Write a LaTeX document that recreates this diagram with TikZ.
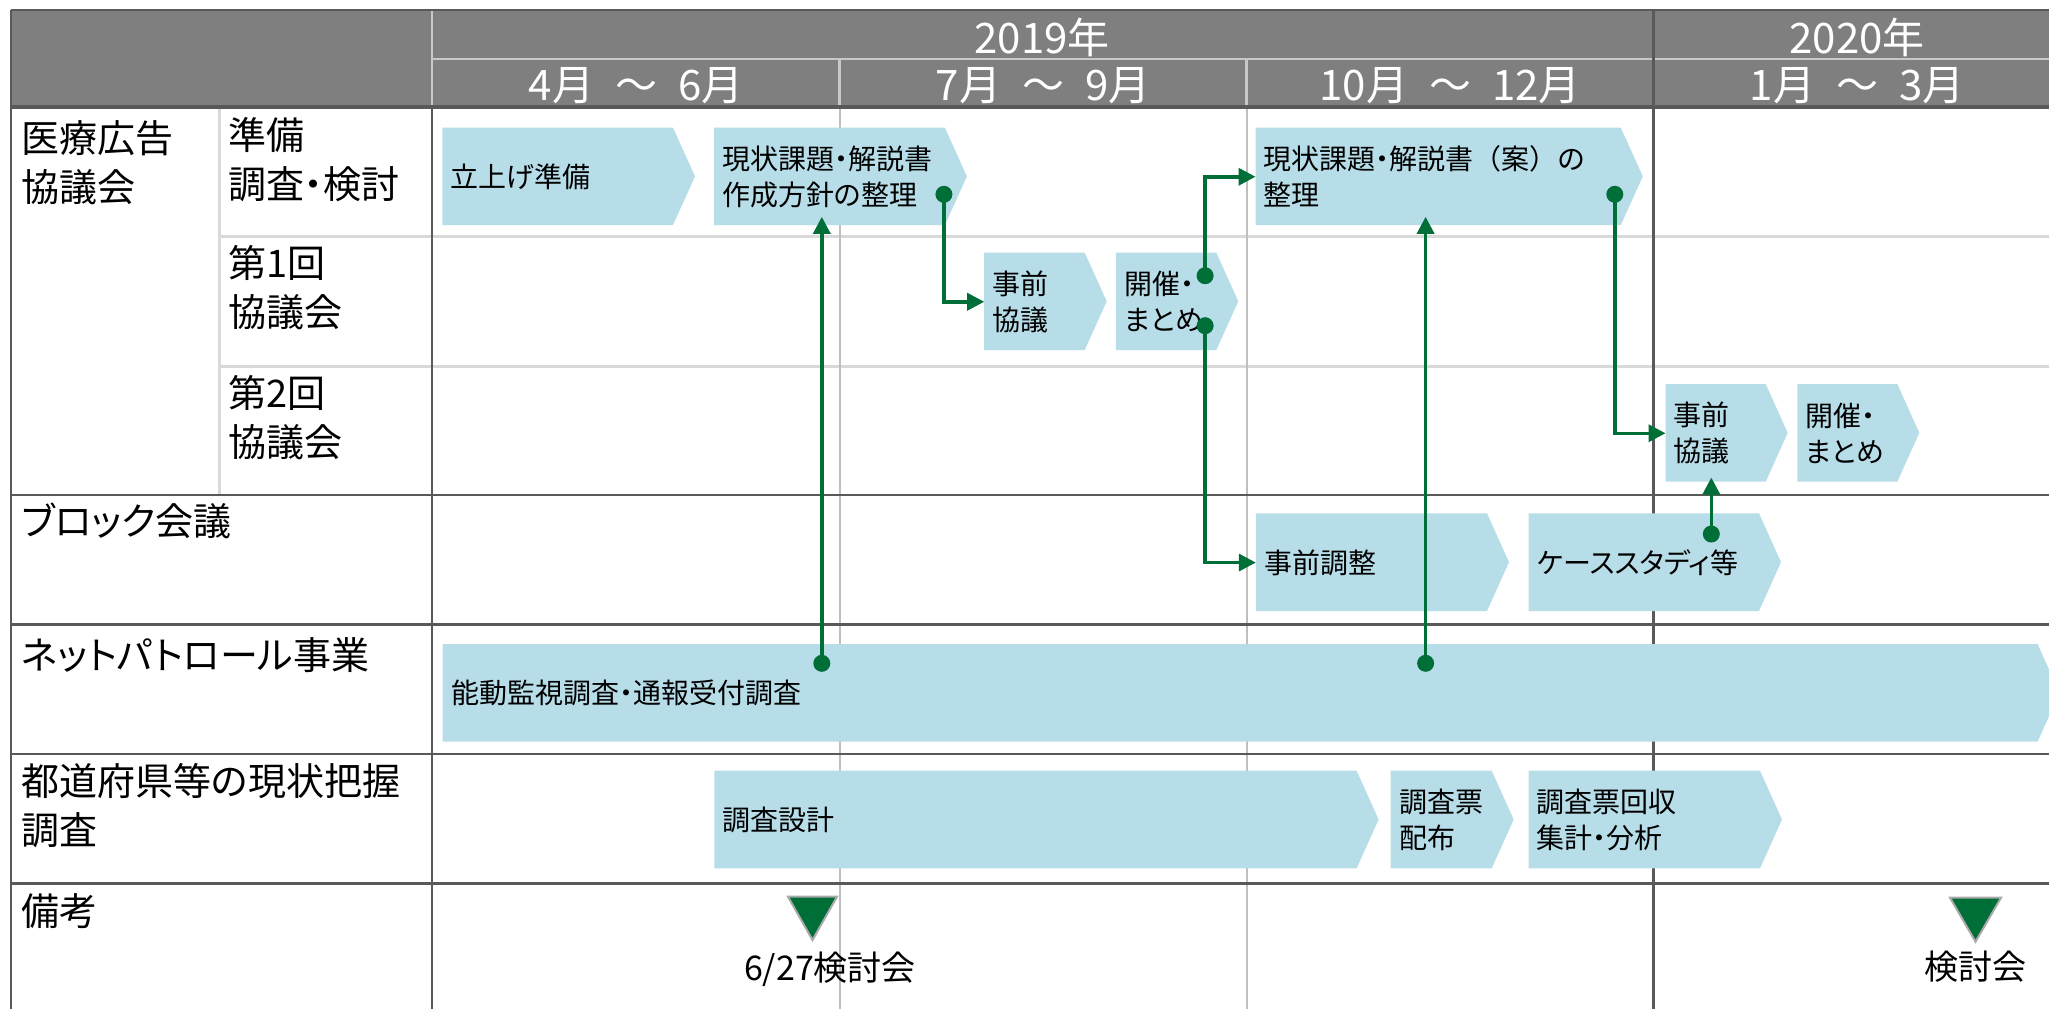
\documentclass[tikz,border=0pt]{standalone}
\usepackage{fontspec}
\setmainfont{Noto Sans CJK JP}[RawFeature=+palt]
\newfontfamily\fw{Noto Sans CJK JP}
\usetikzlibrary{arrows.meta}
\definecolor{hdr}{RGB}{127,127,127}
\definecolor{dark}{RGB}{89,89,89}
\definecolor{lightln}{RGB}{217,217,217}
\definecolor{midln}{RGB}{191,191,191}
\definecolor{hdrlight}{RGB}{200,200,200}
\definecolor{boxblue}{RGB}{183,221,232}
\definecolor{grn}{RGB}{0,110,55}
\definecolor{trigray}{RGB}{170,170,170}

\newcommand\chev[6]{%
  \fill[boxblue] (#2,#3) -- (#4,#3) -- ({#4+22},{(#3+#5)/2}) -- (#4,#5) -- (#2,#5) -- cycle;
  \node[boxnode, minimum width={(#4-#2)*0.5pt}, minimum height={(#5-#3)*0.5pt}] (#1) at (#2,#3) {};
  \node[boxtxt] (#1t) at ([xshift=4pt]#1.west) {#6};
}

\begin{document}
\begin{tikzpicture}[x=0.5pt,y=-0.5pt,
  hdrln/.style={draw=hdrlight, line width=1.3pt},
  subln/.style={draw=lightln, line width=1.5pt},
  qln/.style={draw=midln, line width=1pt},
  dk/.style={draw=dark, line width=1.4pt},
  boxnode/.style={draw=none, inner sep=0pt, anchor=north west, rectangle},
  boxtxt/.style={anchor=west, align=left, inner sep=0pt, font=\fontsize{14pt}{18pt}\selectfont},
  lbl/.style={anchor=north west, align=left, inner sep=0pt, font=\fontsize{19pt}{24.5pt}\selectfont},
  hdrtxt/.style={text=white, inner sep=0pt, font=\fw\fontsize{21pt}{24pt}\selectfont},
  notetxt/.style={inner sep=0pt, font=\fontsize{17pt}{20pt}\selectfont},
  dotnode/.style={circle, fill=grn, inner sep=0pt, minimum size=8.5pt},
  arr/.style={draw=grn, line width=1.75pt, -{Triangle[length=8.5pt,width=8.5pt]}}]
\useasboundingbox (0,0) rectangle (2049,1009);
\clip (0,0) rectangle (2049,1009);
\fill[white] (0,0) rectangle (2049,1009);

% header
\fill[hdr] (11,10) rectangle (2060,107);
\draw[hdrln] (432,59) -- (2060,59);
\draw[hdrln] (839.5,59) -- (839.5,107);
\draw[hdrln] (1246.6,59) -- (1246.6,107);
\draw[hdrln] (432,10) -- (432,107);

% light grid
\draw[subln] (219,107) -- (219,495);
\draw[subln] (219,236.7) -- (2060,236.7);
\draw[subln] (219,366) -- (2060,366);
\draw[qln] (839.5,107) -- (839.5,1009);
\draw[qln] (1246.6,107) -- (1246.6,1009);

% dark grid
\draw[dk] (11,10) -- (2060,10);
\draw[dk] (11,10) -- (11,1009);
\draw[dk, line width=2pt] (11,107) -- (2060,107);
\draw[dk] (432,107) -- (432,1009);
\draw[dk] (1653.3,10) -- (1653.3,1009);
\foreach \yy in {495,624.5,754,883.5} \draw[dk] (11,\yy) -- (2060,\yy);

% header texts
\node[hdrtxt] (y2019) at (1042,37.5) {2019年};
\node[hdrtxt] (y2020) at (1857,37.5) {2020年};
\node[hdrtxt] (q1) at (636,86) {4月\hspace{0.5em}～\hspace{0.5em}6月};
\node[hdrtxt] (q2) at (1043,86) {7月\hspace{0.5em}～\hspace{0.5em}9月};
\node[hdrtxt] (q3) at (1450,86) {10月\hspace{0.5em}～\hspace{0.5em}12月};
\node[hdrtxt] (q4) at (1857,86) {1月\hspace{0.5em}～\hspace{0.5em}3月};

% row labels
\node[lbl] (l1) at (21,120) {医療広告\\協議会};
\node[lbl] (l2) at (228,117) {準備\\調査・検討};
\node[lbl] (l3) at (228,245) {第1回\\協議会};
\node[lbl] (l4) at (228,375) {第2回\\協議会};
\node[lbl] (l5) at (21,503) {ブロック会議};
\node[lbl] (l6) at (21,637) {ネットパトロール事業};
\node[lbl] (l7) at (21,763) {都道府県等の現状把握\\調査};
\node[lbl] (l8) at (21,893) {備考};

% boxes
\chev{b1}{442.3}{127.7}{673}{225}{立上げ準備}
\chev{b2}{713.8}{127.7}{944.9}{225}{現状課題・解説書\\作成方針の整理}
\chev{b3}{1255.5}{127.7}{1620.8}{225}{現状課題・解説書{\fw（案）}の\\整理}
\chev{b4}{984.2}{252.7}{1084.7}{350}{事前\\協議}
\chev{b5}{1115.8}{252.7}{1216.3}{350}{開催・\\まとめ}
\chev{b6}{1665.5}{384}{1765.7}{481.7}{事前\\協議}
\chev{b7}{1797.3}{384}{1897.3}{481.7}{開催・\\まとめ}
\chev{b8}{1255.8}{513.3}{1487}{611}{事前調整}
\chev{b9}{1528.6}{513.3}{1759}{611}{ケーススタディ等}
\chev{b10}{442.6}{644}{2037.5}{741.7}{能動監視調査・通報受付調査}
\chev{b11}{714.3}{770.7}{1356.6}{868.3}{調査設計}
\chev{b12}{1390.7}{770.7}{1491.7}{868.3}{調査票\\配布}
\chev{b13}{1528.5}{770.7}{1760}{868.3}{調査票回収\\集計・分析}

% dots
\node[dotnode] (d1) at (943.9,194.3) {};
\node[dotnode] (d2) at (1205.1,275.7) {};
\node[dotnode] (d3) at (1205.1,325.7) {};
\node[dotnode] (d4) at (1614.8,194.3) {};
\node[dotnode] (d5) at (1711.3,534) {};
\node[dotnode] (d6) at (821.8,663.3) {};
\node[dotnode] (d7) at (1425.6,663.3) {};

% connectors
\draw[arr] (d1.center) |- (b4.west);
\draw[arr] (d2.center) |- (b3.west);
\draw[arr] (d3.center) |- (b8.west);
\draw[arr] (d4.center) |- (b6.west);
\draw[arr] (d6.center) -- ([yshift=4.5pt]d6 |- b2.south);
\draw[arr] (d7.center) -- ([yshift=4.5pt]d7 |- b3.south);
\draw[arr] (d5.center) -- ([yshift=2.5pt]d5 |- b6.south);

% milestones
\filldraw[fill=grn, draw=trigray, line width=1pt] (788,896.7) -- (837,896.7) -- (812.5,940) -- cycle;
\filldraw[fill=grn, draw=trigray, line width=1pt] (1950,897.7) -- (2001,897.7) -- (1975.5,941.7) -- cycle;
\node[notetxt] (n1) at (830,969) {6/27検討会};
\node[notetxt] (n2) at (1975,966.5) {検討会};
\end{tikzpicture}
\end{document}
